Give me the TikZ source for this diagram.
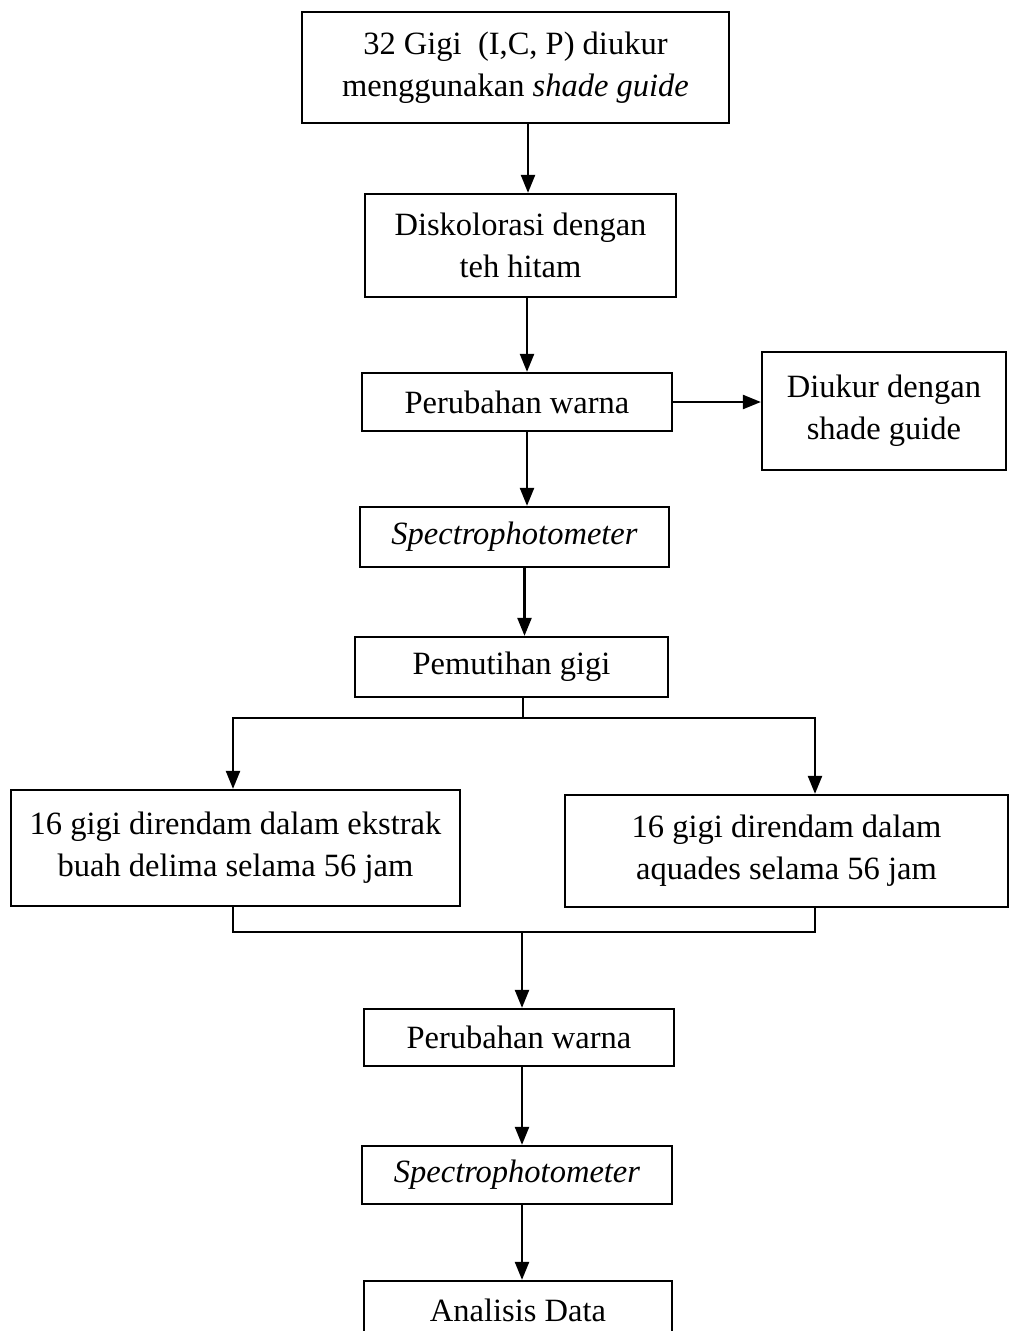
\documentclass[tikz,border=0pt]{standalone}
\usepackage{fontspec}
\setmainfont{Liberation Serif}
\usetikzlibrary{arrows.meta}

\begin{document}
\begin{tikzpicture}[x=0.02cm, y=-0.02cm, line width=1.3pt,
        font=\fontsize{18.5}{24}\selectfont]
        \tikzstyle{box}=[draw, rectangle, inner sep=0pt, align=center];
        \tikzstyle{arr}=[-{Triangle[length=0.36cm,width=0.28cm]}];

        \useasboundingbox (0,0) rectangle (1008,1331);

        % alur utama
        \node[box, minimum width=8.54cm, minimum height=2.22cm] (ukur) at (515.5,67.5) {32 Gigi\ \ (I,C, P) diukur\\menggunakan \textit{shade guide}};
        \node[box, minimum width=6.22cm, minimum height=2.06cm] (disk) at (520.5,245.5) {Diskolorasi dengan\\teh hitam};
        \node[box, minimum width=6.2cm, minimum height=1.16cm] (ubah1) at (517,402) {Perubahan warna};
        \node[box, minimum width=4.88cm, minimum height=2.36cm] (shade) at (884,411) {Diukur dengan\\shade guide};
        \node[box, minimum width=6.18cm, minimum height=1.2cm] (spek1) at (514.5,537) {\textit{Spectrophotometer}};
        \node[box, minimum width=6.26cm, minimum height=1.2cm] (putih) at (511.5,667) {Pemutihan gigi};

        % dua kelompok
        \node[box, minimum width=8.98cm, minimum height=2.32cm] (delima) at (235.5,848) {16 gigi direndam dalam ekstrak\\buah delima selama 56 jam};
        \node[box, minimum width=8.86cm, minimum height=2.24cm] (aquades) at (786.5,851) {16 gigi direndam dalam\\aquades selama 56 jam};

        \node[box, minimum width=6.2cm, minimum height=1.14cm] (ubah2) at (519,1037.5) {Perubahan warna};
        \node[box, minimum width=6.2cm, minimum height=1.16cm] (spek2) at (517,1175) {\textit{Spectrophotometer}};
        \node[box, minimum width=6.16cm, minimum height=1.16cm] (data) at (518,1310) {Analisis Data};

        \coordinate (cabang) at (523,718);
        \coordinate (gabung) at (522,932);

        \draw[arr] ([xshift=0.25cm]ukur.south) -- ([xshift=0.25cm]ukur.south |- disk.north);
        \draw[arr] ([xshift=0.13cm]disk.south) -- ([xshift=0.13cm]disk.south |- ubah1.north);
        \draw[arr] (ubah1.east) -- (shade.west |- ubah1.east);
        \draw[arr] ([xshift=0.2cm]ubah1.south) -- ([xshift=0.2cm]ubah1.south |- spek1.north);
        \draw[arr] ([xshift=0.2cm]spek1.south) -- ([xshift=0.2cm]spek1.south |- putih.north);

        \draw (cabang |- putih.south) -- (cabang);
        \draw[arr] (cabang) -| ([xshift=-0.05cm]delima.north);
        \draw[arr] (cabang) -| ([xshift=0.57cm]aquades.north);

        \draw ([xshift=-0.05cm]delima.south) |- (gabung) -| ([xshift=0.57cm]aquades.south);
        \draw[arr] (gabung) -- (gabung |- ubah2.north);
        \draw[arr] (gabung |- ubah2.south) -- (gabung |- spek2.north);
        \draw[arr] (gabung |- spek2.south) -- (gabung |- data.north);
    \end{tikzpicture}
\end{document}
